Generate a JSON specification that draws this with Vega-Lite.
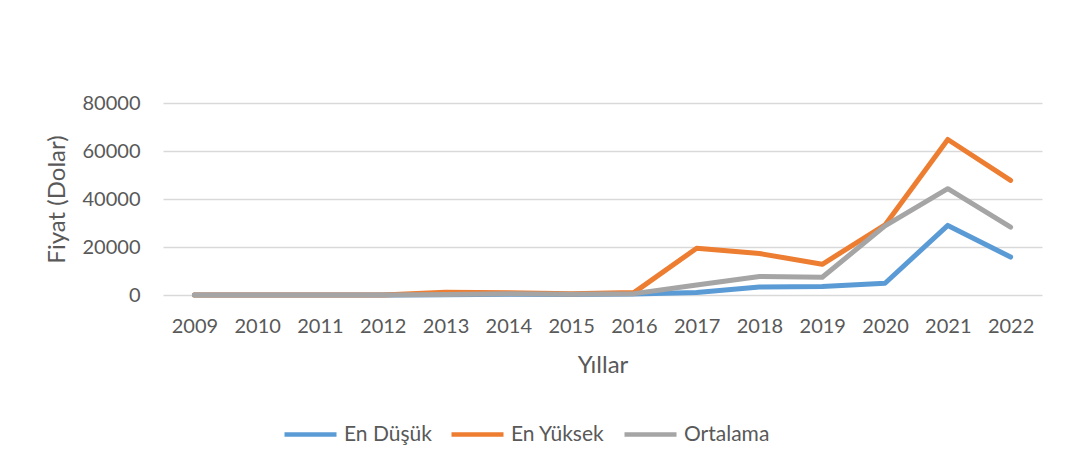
{
  "$schema": "https://vega.github.io/schema/vega-lite/v6.json",
  "width": 879,
  "height": 192,
  "autosize": "none",
  "padding": {"left": 163, "top": 103, "right": 23, "bottom": 178},
  "background": "white",
  "config": {
    "view": {"stroke": null},
    "font": "Lato"
  },
  "data": {
    "values": [
      {"yil": "2009", "seri": "En Düşük", "fiyat": 0},
      {"yil": "2010", "seri": "En Düşük", "fiyat": 0},
      {"yil": "2011", "seri": "En Düşük", "fiyat": 1},
      {"yil": "2012", "seri": "En Düşük", "fiyat": 4},
      {"yil": "2013", "seri": "En Düşük", "fiyat": 65},
      {"yil": "2014", "seri": "En Düşük", "fiyat": 310},
      {"yil": "2015", "seri": "En Düşük", "fiyat": 170},
      {"yil": "2016", "seri": "En Düşük", "fiyat": 365},
      {"yil": "2017", "seri": "En Düşük", "fiyat": 1000},
      {"yil": "2018", "seri": "En Düşük", "fiyat": 3300},
      {"yil": "2019", "seri": "En Düşük", "fiyat": 3500},
      {"yil": "2020", "seri": "En Düşük", "fiyat": 4900},
      {"yil": "2021", "seri": "En Düşük", "fiyat": 29000},
      {"yil": "2022", "seri": "En Düşük", "fiyat": 15800},
      {"yil": "2009", "seri": "En Yüksek", "fiyat": 0},
      {"yil": "2010", "seri": "En Yüksek", "fiyat": 0},
      {"yil": "2011", "seri": "En Yüksek", "fiyat": 30},
      {"yil": "2012", "seri": "En Yüksek", "fiyat": 16},
      {"yil": "2013", "seri": "En Yüksek", "fiyat": 1150},
      {"yil": "2014", "seri": "En Yüksek", "fiyat": 950},
      {"yil": "2015", "seri": "En Yüksek", "fiyat": 500},
      {"yil": "2016", "seri": "En Yüksek", "fiyat": 1000},
      {"yil": "2017", "seri": "En Yüksek", "fiyat": 19500},
      {"yil": "2018", "seri": "En Yüksek", "fiyat": 17300},
      {"yil": "2019", "seri": "En Yüksek", "fiyat": 12800},
      {"yil": "2020", "seri": "En Yüksek", "fiyat": 29200},
      {"yil": "2021", "seri": "En Yüksek", "fiyat": 64800},
      {"yil": "2022", "seri": "En Yüksek", "fiyat": 47800},
      {"yil": "2009", "seri": "Ortalama", "fiyat": 0},
      {"yil": "2010", "seri": "Ortalama", "fiyat": 0},
      {"yil": "2011", "seri": "Ortalama", "fiyat": 5},
      {"yil": "2012", "seri": "Ortalama", "fiyat": 8},
      {"yil": "2013", "seri": "Ortalama", "fiyat": 200},
      {"yil": "2014", "seri": "Ortalama", "fiyat": 520},
      {"yil": "2015", "seri": "Ortalama", "fiyat": 270},
      {"yil": "2016", "seri": "Ortalama", "fiyat": 570},
      {"yil": "2017", "seri": "Ortalama", "fiyat": 4200},
      {"yil": "2018", "seri": "Ortalama", "fiyat": 7700},
      {"yil": "2019", "seri": "Ortalama", "fiyat": 7400},
      {"yil": "2020", "seri": "Ortalama", "fiyat": 28800},
      {"yil": "2021", "seri": "Ortalama", "fiyat": 44300},
      {"yil": "2022", "seri": "Ortalama", "fiyat": 28300}
    ]
  },
  "mark": {"type": "line", "strokeWidth": 5, "strokeCap": "round", "strokeJoin": "round"},
  "encoding": {
    "x": {
      "field": "yil", "type": "ordinal", "title": "Yıllar",
      "scale": {"padding": 0.5},
      "axis": {"labelAngle": 0, "domain": false, "ticks": false, "tickSize": 0, "grid": false, "labelPadding": 21, "titlePadding": 17,
        "labelFont": "Lato", "titleFont": "Lato", "labelColor": "#595959", "titleColor": "#595959", "labelFontSize": 20, "titleFontSize": 24, "titleFontWeight": "normal"}
    },
    "y": {
      "field": "fiyat", "type": "quantitative", "title": "Fiyat (Dolar)",
      "scale": {"domain": [0, 80000], "nice": false, "zero": true},
      "axis": {"values": [0, 20000, 40000, 60000, 80000], "format": "d", "domain": false, "ticks": false, "tickSize": 0, "grid": true, "gridColor": "#D9D9D9", "gridWidth": 1.5, "labelPadding": 23, "titlePadding": 13,
        "labelFont": "Lato", "titleFont": "Lato", "labelColor": "#595959", "titleColor": "#595959", "labelFontSize": 20, "titleFontSize": 24, "titleFontWeight": "normal"}
    },
    "color": {
      "field": "seri", "type": "nominal", "title": null,
      "scale": {"domain": ["En Düşük", "En Yüksek", "Ortalama"], "range": ["#5B9BD5", "#ED7D31", "#A5A5A5"]},
      "legend": {"orient": "none", "direction": "horizontal", "legendX": 119, "legendY": 303, "padding": 0, "symbolType": "stroke", "symbolSize": 2704, "symbolStrokeWidth": 4.5, "labelOffset": 5, "columnPadding": 10, "gridAlign": "none",
        "labelFont": "Lato", "labelColor": "#595959", "labelFontSize": 21}
    }
  }
}
